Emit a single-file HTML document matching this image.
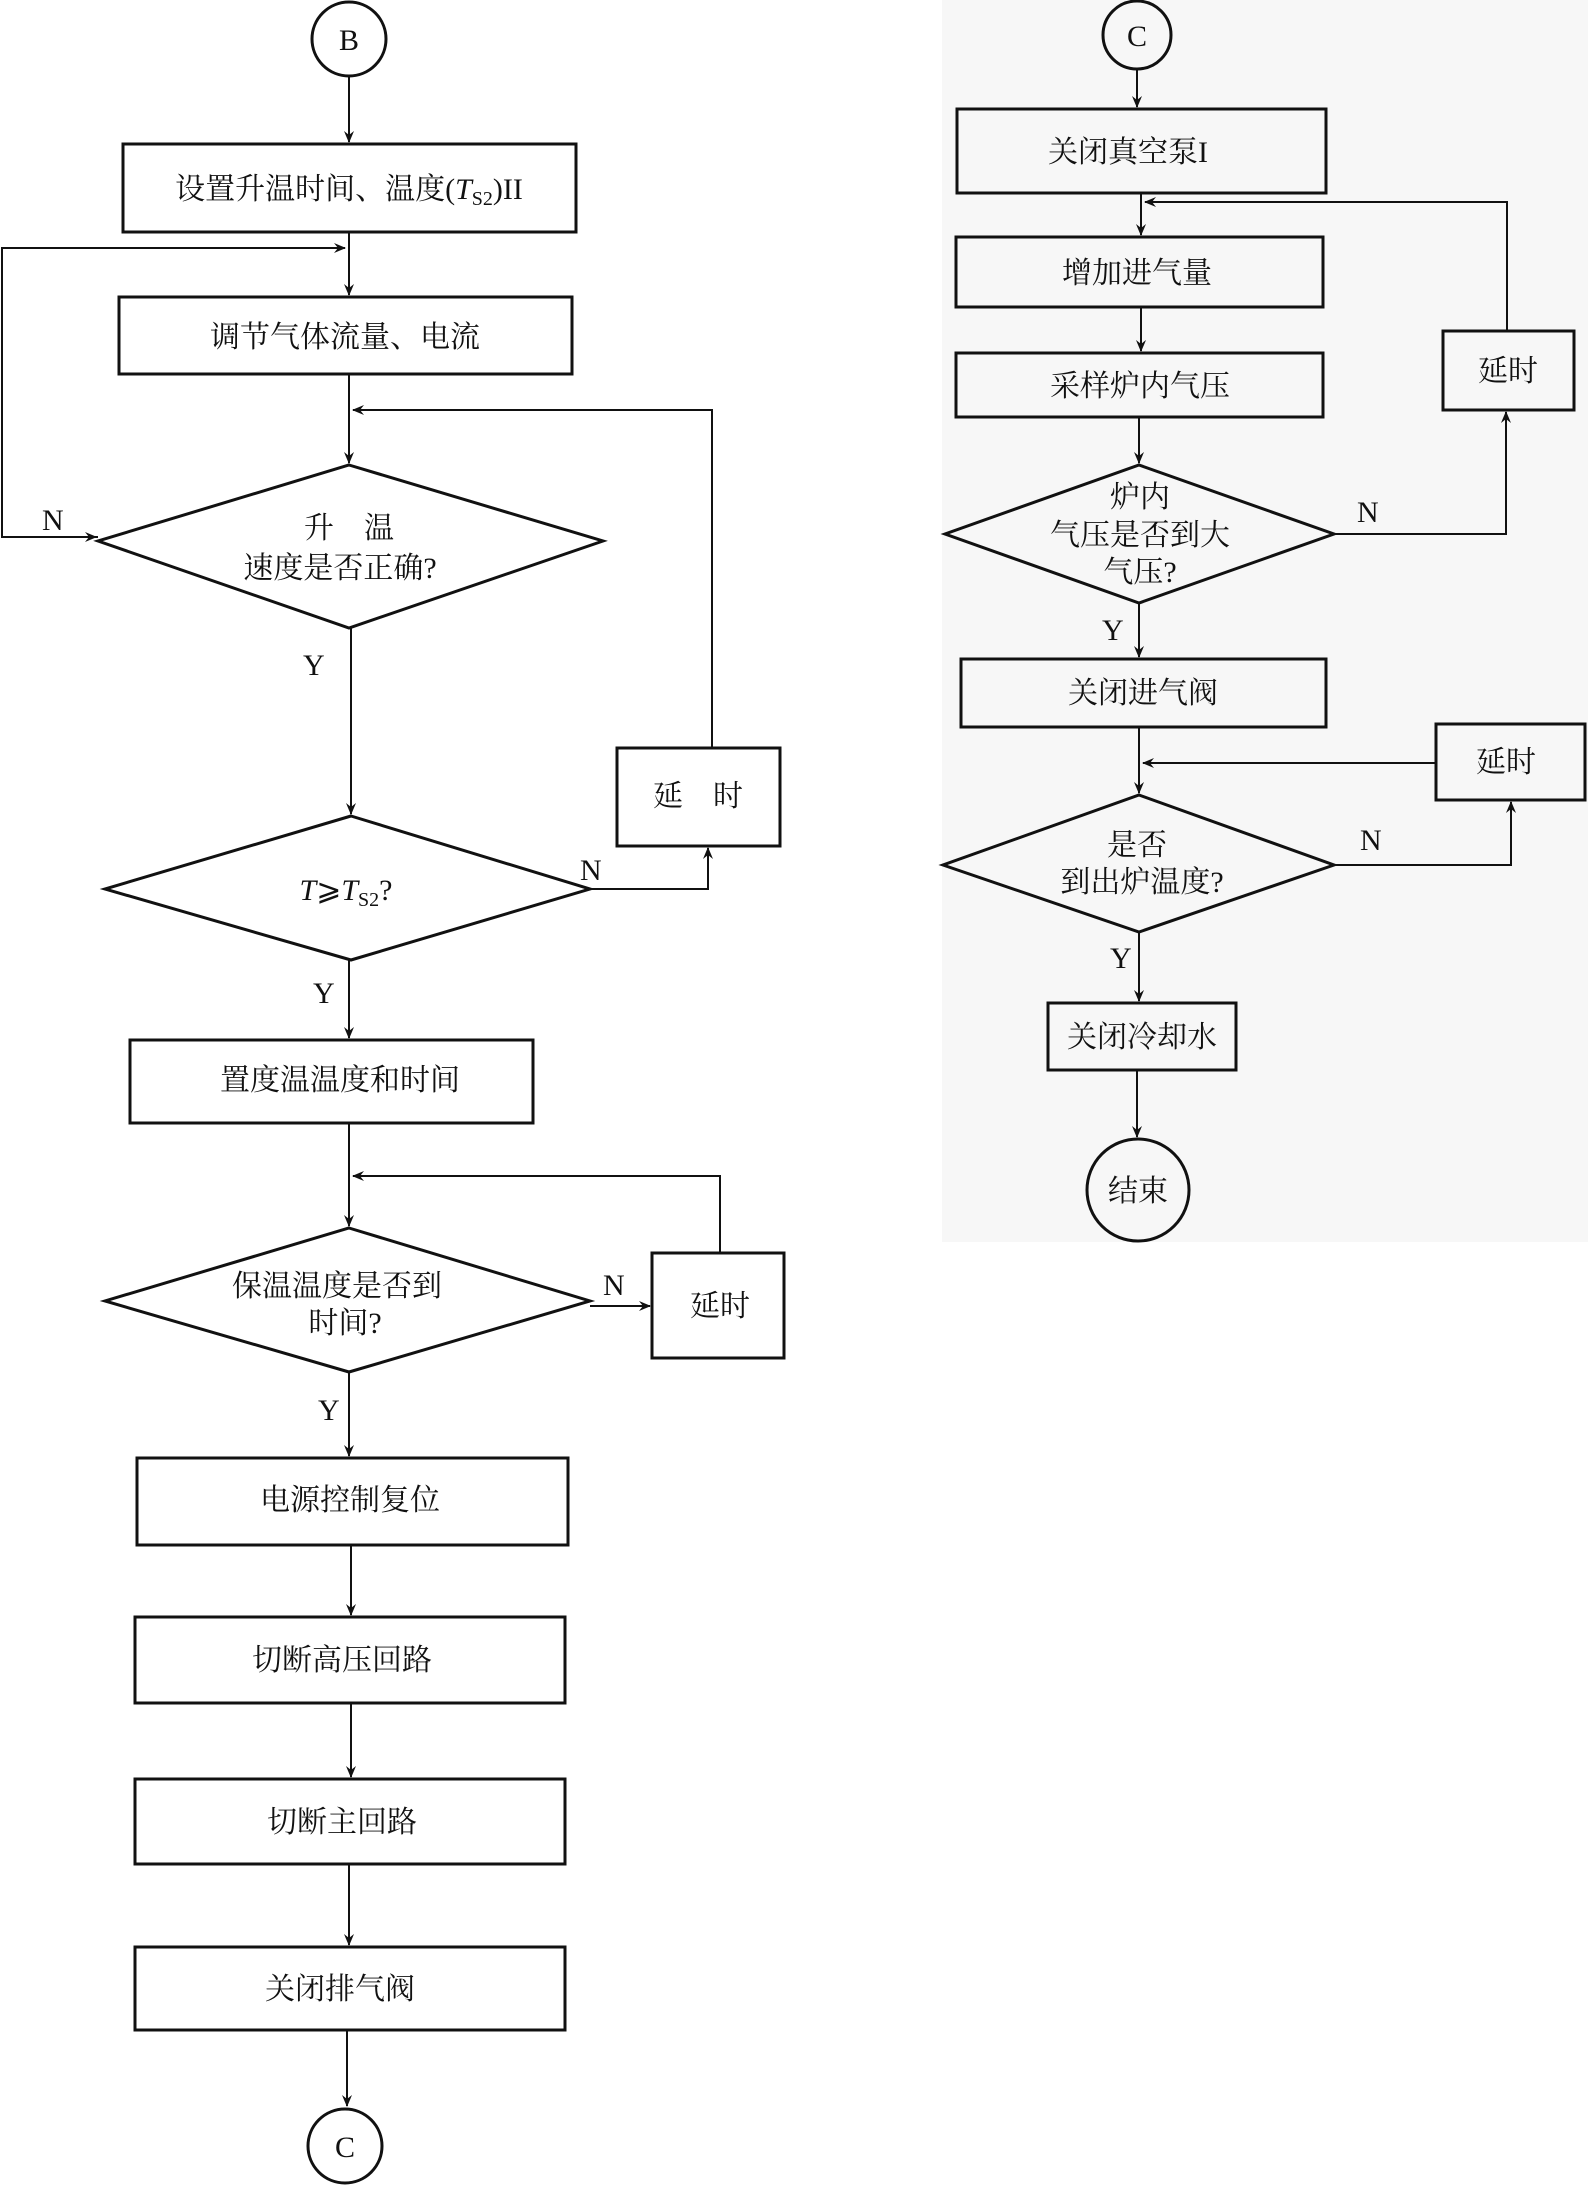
<!DOCTYPE html>
<html><head><meta charset="utf-8"><style>
html,body{margin:0;padding:0;background:#fff;}
svg{display:block;}
text{font-family:"Liberation Serif","Noto Serif CJK SC",serif;font-size:30px;fill:#111;}
.s{fill:none;stroke:#111;stroke-width:3;}
.l{fill:none;stroke:#111;stroke-width:2;}
</style></head><body>
<svg width="1588" height="2188" viewBox="0 0 1588 2188" xmlns="http://www.w3.org/2000/svg">
<defs><marker id="a" markerWidth="12" markerHeight="10" refX="11" refY="5" orient="auto" markerUnits="userSpaceOnUse"><path d="M0,0 L12,5 L0,10 L4,5z" fill="#111"/></marker></defs>
<rect x="942" y="0" width="646" height="1242" fill="#f7f7f7"/>
<!-- LEFT -->
<circle class="s" cx="349" cy="39" r="37" fill="#fff"/>
<text x="349" y="50" text-anchor="middle">B</text>
<line class="l" x1="349" y1="76" x2="349" y2="142" marker-end="url(#a)"/>
<rect class="s" x="123" y="144" width="453" height="88" fill="#fff"/>
<text x="349" y="199" text-anchor="middle">设置升温时间、温度(<tspan font-style="italic">T</tspan><tspan font-size="20" dy="6">S2</tspan><tspan dy="-6">)II</tspan></text>
<line class="l" x1="349" y1="232" x2="349" y2="295" marker-end="url(#a)"/>
<polyline class="l" points="98,537 2,537 2,248 345,248" marker-end="url(#a)"/>
<line class="l" x1="2" y1="537" x2="96" y2="537" marker-end="url(#a)"/>
<rect class="s" x="119" y="297" width="453" height="77" fill="#fff"/>
<text x="345" y="347" text-anchor="middle">调节气体流量、电流</text>
<line class="l" x1="349" y1="374" x2="349" y2="463" marker-end="url(#a)"/>
<polyline class="l" points="712,748 712,410 353,410" marker-end="url(#a)"/>
<polygon class="s" points="349,465 603,541 349,628 98,541" fill="#fff"/>
<text x="349" y="538" text-anchor="middle">升　温</text>
<text x="340" y="578" text-anchor="middle">速度是否正确?</text>
<text x="42" y="530">N</text>
<text x="303" y="675">Y</text>
<line class="l" x1="351" y1="628" x2="351" y2="814" marker-end="url(#a)"/>
<rect class="s" x="617" y="748" width="163" height="98" fill="#fff"/>
<text x="698" y="806" text-anchor="middle">延　时</text>
<polygon class="s" points="351,816 590,889 351,960 105,889" fill="#fff"/>
<text x="346" y="900" text-anchor="middle"><tspan font-style="italic">T</tspan>⩾<tspan font-style="italic">T</tspan><tspan font-size="20" dy="6">S2</tspan><tspan dy="-6">?</tspan></text>
<polyline class="l" points="590,889 708,889 708,848" marker-end="url(#a)"/>
<text x="580" y="880">N</text>
<text x="313" y="1003">Y</text>
<line class="l" x1="349" y1="960" x2="349" y2="1038" marker-end="url(#a)"/>
<rect class="s" x="130" y="1040" width="403" height="83" fill="#fff"/>
<text x="340" y="1090" text-anchor="middle">置度温温度和时间</text>
<line class="l" x1="349" y1="1123" x2="349" y2="1226" marker-end="url(#a)"/>
<polyline class="l" points="720,1253 720,1176 353,1176" marker-end="url(#a)"/>
<polygon class="s" points="349,1228 590,1301 349,1372 105,1301" fill="#fff"/>
<text x="337" y="1296" text-anchor="middle">保温温度是否到</text>
<text x="345" y="1333" text-anchor="middle">时间?</text>
<line class="l" x1="590" y1="1306" x2="650" y2="1306" marker-end="url(#a)"/>
<text x="603" y="1295">N</text>
<rect class="s" x="652" y="1253" width="132" height="105" fill="#fff"/>
<text x="720" y="1316" text-anchor="middle">延时</text>
<text x="318" y="1420">Y</text>
<line class="l" x1="349" y1="1372" x2="349" y2="1456" marker-end="url(#a)"/>
<rect class="s" x="137" y="1458" width="431" height="87" fill="#fff"/>
<text x="350" y="1510" text-anchor="middle">电源控制复位</text>
<line class="l" x1="351" y1="1545" x2="351" y2="1615" marker-end="url(#a)"/>
<rect class="s" x="135" y="1617" width="430" height="86" fill="#fff"/>
<text x="342" y="1670" text-anchor="middle">切断高压回路</text>
<line class="l" x1="351" y1="1703" x2="351" y2="1777" marker-end="url(#a)"/>
<rect class="s" x="135" y="1779" width="430" height="85" fill="#fff"/>
<text x="342" y="1832" text-anchor="middle">切断主回路</text>
<line class="l" x1="349" y1="1864" x2="349" y2="1945" marker-end="url(#a)"/>
<rect class="s" x="135" y="1947" width="430" height="83" fill="#fff"/>
<text x="340" y="1999" text-anchor="middle">关闭排气阀</text>
<line class="l" x1="347" y1="2030" x2="347" y2="2106" marker-end="url(#a)"/>
<circle class="s" cx="345" cy="2146" r="37" fill="#fff"/>
<text x="345" y="2157" text-anchor="middle">C</text>
<!-- RIGHT -->
<circle class="s" cx="1137" cy="35" r="34" fill="#fff"/>
<text x="1137" y="46" text-anchor="middle">C</text>
<line class="l" x1="1137" y1="69" x2="1137" y2="107" marker-end="url(#a)"/>
<rect class="s" x="957" y="109" width="369" height="84" fill="#fff"/>
<text x="1128" y="162" text-anchor="middle">关闭真空泵I</text>
<line class="l" x1="1141" y1="193" x2="1141" y2="235" marker-end="url(#a)"/>
<polyline class="l" points="1507,331 1507,202 1145,202" marker-end="url(#a)"/>
<rect class="s" x="956" y="237" width="367" height="70" fill="#fff"/>
<text x="1137" y="283" text-anchor="middle">增加进气量</text>
<line class="l" x1="1141" y1="307" x2="1141" y2="351" marker-end="url(#a)"/>
<rect class="s" x="956" y="353" width="367" height="64" fill="#fff"/>
<text x="1140" y="396" text-anchor="middle">采样炉内气压</text>
<line class="l" x1="1139" y1="417" x2="1139" y2="463" marker-end="url(#a)"/>
<rect class="s" x="1443" y="331" width="131" height="79" fill="#fff"/>
<text x="1508" y="381" text-anchor="middle">延时</text>
<polygon class="s" points="1139,465 1334,534 1139,603 945,534" fill="#fff"/>
<text x="1140" y="507" text-anchor="middle">炉内</text>
<text x="1140" y="545" text-anchor="middle">气压是否到大</text>
<text x="1140" y="582" text-anchor="middle">气压?</text>
<polyline class="l" points="1334,534 1506,534 1506,412" marker-end="url(#a)"/>
<text x="1357" y="522">N</text>
<text x="1102" y="640">Y</text>
<line class="l" x1="1139" y1="603" x2="1139" y2="657" marker-end="url(#a)"/>
<rect class="s" x="961" y="659" width="365" height="68" fill="#fff"/>
<text x="1143" y="703" text-anchor="middle">关闭进气阀</text>
<line class="l" x1="1139" y1="727" x2="1139" y2="793" marker-end="url(#a)"/>
<polyline class="l" points="1436,763 1143,763" marker-end="url(#a)"/>
<rect class="s" x="1436" y="724" width="149" height="76" fill="#fff"/>
<text x="1506" y="772" text-anchor="middle">延时</text>
<polygon class="s" points="1139,795 1334,865 1139,932 943,865" fill="#fff"/>
<text x="1137" y="855" text-anchor="middle">是否</text>
<text x="1142" y="892" text-anchor="middle">到出炉温度?</text>
<polyline class="l" points="1334,865 1511,865 1511,802" marker-end="url(#a)"/>
<text x="1360" y="850">N</text>
<text x="1110" y="968">Y</text>
<line class="l" x1="1139" y1="932" x2="1139" y2="1001" marker-end="url(#a)"/>
<rect class="s" x="1048" y="1003" width="188" height="67" fill="#fff"/>
<text x="1142" y="1047" text-anchor="middle">关闭冷却水</text>
<line class="l" x1="1137" y1="1070" x2="1137" y2="1137" marker-end="url(#a)"/>
<circle class="s" cx="1138" cy="1190" r="51" fill="#fff"/>
<text x="1138" y="1201" text-anchor="middle">结束</text>
</svg>
</body></html>
